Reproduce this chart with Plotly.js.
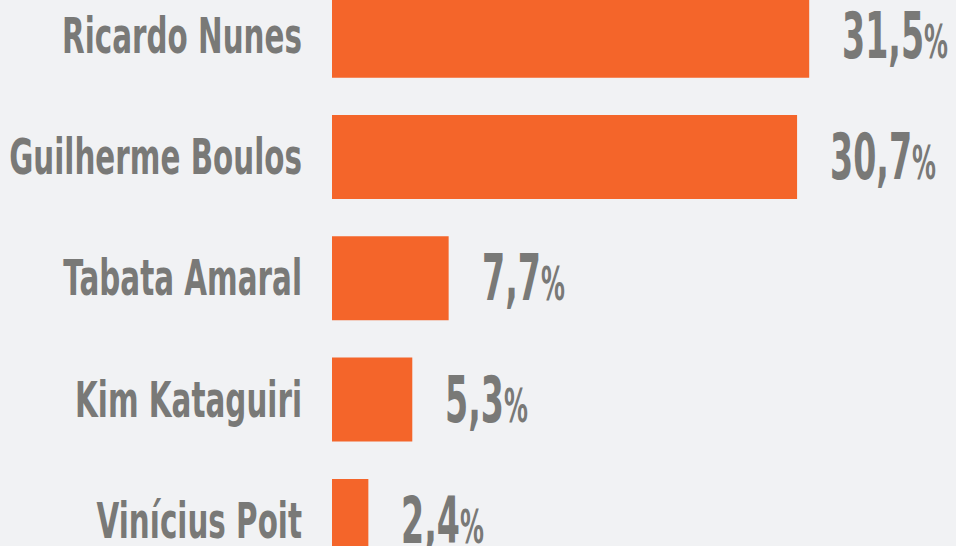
<!DOCTYPE html>
<html>
<head>
<meta charset="utf-8">
<script src="https://cdn.plot.ly/plotly-3.0.1.min.js"></script>
<style>html,body{margin:0;padding:0;background:#f1f2f4;}</style>
</head>
<body>
<div id="chart" style="width:956px;height:546px;"></div>
<script>
const candidates = ["Ricardo Nunes", "Guilherme Boulos", "Tabata Amaral", "Kim Kataguiri", "Vinícius Poit"];
const values = [31.5, 30.7, 7.7, 5.3, 2.4];
const valueLabels = ["31,5", "30,7", "7,7", "5,3", "2,4"];

const FONT = "'DejaVu Sans', sans-serif";
const GRAY = "#797977";

const trace = {
  type: "bar",
  orientation: "h",
  x: values,
  y: candidates,
  marker: {color: "#f4652a"},
  hoverinfo: "none"
};

const annotations = candidates.map((c, i) => ({
  x: values[i],
  y: c,
  xref: "x",
  yref: "y",
  xanchor: "left",
  yanchor: "middle",
  xshift: 31,
  yshift: 0,
  showarrow: false,
  text: "<b>" + valueLabels[i] + "<span style='font-size:46px'>%</span></b>",
  font: {family: FONT, size: 64, color: GRAY}
}));

const layout = {
  width: 956,
  height: 546,
  margin: {l: 332, r: 0, t: 0, b: 0, pad: 0},
  paper_bgcolor: "#f1f2f4",
  plot_bgcolor: "#f1f2f4",
  showlegend: false,
  bargap: 0.3075,
  xaxis: {range: [0, 41.19], visible: false, fixedrange: true},
  yaxis: {
    type: "category",
    range: [4.207, -0.294],
    showgrid: false,
    zeroline: false,
    showline: false,
    ticks: "",
    ticklabelstandoff: 29,
    tickfont: {family: FONT, size: 49, color: GRAY, weight: "bold"}
  },
  annotations: annotations
};

// horizontal condensing of the text (reference uses a condensed typeface)
function squeeze(el, s, anchorRight) {
  const bb = el.getBBox();
  const a = anchorRight ? bb.x + bb.width : bb.x;
  const t = el.getAttribute("transform") || "";
  el.setAttribute("transform", t + " translate(" + a + ",0) scale(" + s + ",1) translate(" + (-a) + ",0)");
}

Plotly.newPlot("chart", [trace], layout, {displayModeBar: false, staticPlot: true}).then(gd => {
  const names = Array.from(gd.querySelectorAll(".ytick text"));
  const ref = names.find(el => el.textContent === candidates[0]);
  if (ref) {
    const s = 240 / ref.getBBox().width;
    names.forEach(el => squeeze(el, s, true));
  }
  const vals = Array.from(gd.querySelectorAll(".annotation-text"));
  const vref = vals.find(el => el.textContent.indexOf(valueLabels[0]) === 0);
  if (vref) {
    const s = 106 / vref.getBBox().width;
    vals.forEach(el => squeeze(el, s, false));
  }
});
</script>
</body>
</html>
